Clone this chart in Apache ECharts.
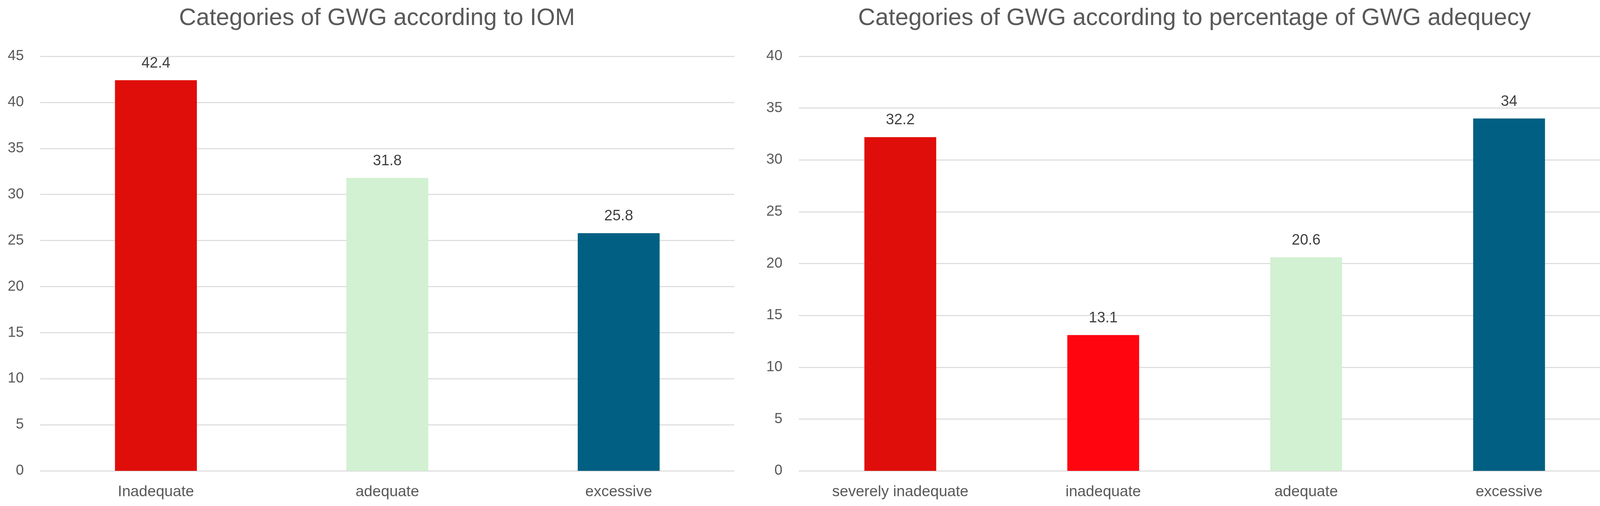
<!DOCTYPE html>
<html>
<head>
<meta charset="utf-8">
<script src="https://cdn.jsdelivr.net/npm/echarts@6/dist/echarts.min.js"></script>
<style>
html,body{margin:0;padding:0;background:#fff;}
#chart{width:4148px;height:1295px;}
</style>
</head>
<body>
<div id="chart"></div>
<script>
// ---- data ----
const titleLeft = 'Categories of GWG according to IOM';
const titleRight = 'Categories of GWG according to percentage of GWG adequecy';
const catsLeft = ['Inadequate', 'adequate', 'excessive'];
const valsLeft = [42.4, 31.8, 25.8];
const catsRight = ['severely inadequate', 'inadequate', 'adequate', 'excessive'];
const valsRight = [32.2, 13.1, 20.6, 34];
const yTicksLeft = [0, 5, 10, 15, 20, 25, 30, 35, 40, 45];
const yTicksRight = [0, 5, 10, 15, 20, 25, 30, 35, 40];

// ---- styles ----
const colorsLeft = ['#E00E0A', '#D2F0D2', '#005F82'];
const colorsRight = ['#E00E0A', '#FF0510', '#D2F0D2', '#005F82'];
const FONT = '"Liberation Sans", Arial, sans-serif';
const textGray = '#595959';

function mkData(vals, colors) {
  return vals.map((v, i) => ({ value: v, itemStyle: { color: colors[i] } }));
}

function yAxis(idx, ticks) {
  return {
    type: 'value', gridIndex: idx,
    min: ticks[0], max: ticks[ticks.length - 1], interval: ticks[1] - ticks[0],
    axisLine: { show: false }, axisTick: { show: false },
    axisLabel: { color: textGray, fontSize: 37, fontFamily: FONT, margin: 42 },
    splitLine: { lineStyle: { color: '#D9D9D9', width: 2.5 } }
  };
}
function xAxis(idx, cats) {
  return {
    type: 'category', gridIndex: idx, data: cats,
    axisLine: { show: false }, axisTick: { show: false },
    axisLabel: { color: textGray, fontSize: 39, fontFamily: FONT, margin: 35 },
    splitLine: { show: false }
  };
}
function series(idx, vals, colors) {
  return {
    type: 'bar', xAxisIndex: idx, yAxisIndex: idx,
    data: mkData(vals, colors), barWidth: '35.4%',
    label: { show: true, position: 'top', distance: 24, color: '#404040', fontSize: 38, fontFamily: FONT },
    emphasis: { disabled: true }
  };
}

const chart = echarts.init(document.getElementById('chart'), null, { renderer: 'canvas' });
chart.setOption({
  animation: false,
  backgroundColor: '#ffffff',
  title: [
    { text: titleLeft, left: 960, top: 12, textAlign: 'center',
      textStyle: { color: textGray, fontSize: 61, fontWeight: 'normal', fontFamily: FONT } },
    { text: titleRight, left: 3053, top: 12, textAlign: 'center',
      textStyle: { color: textGray, fontSize: 61, fontWeight: 'normal', fontFamily: FONT } }
  ],
  grid: [
    { left: 103, top: 144, width: 1777, height: 1061 },
    { left: 2045, top: 144, width: 2078, height: 1061 }
  ],
  xAxis: [xAxis(0, catsLeft), xAxis(1, catsRight)],
  yAxis: [yAxis(0, yTicksLeft), yAxis(1, yTicksRight)],
  series: [series(0, valsLeft, colorsLeft), series(1, valsRight, colorsRight)]
});
</script>
</body>
</html>
